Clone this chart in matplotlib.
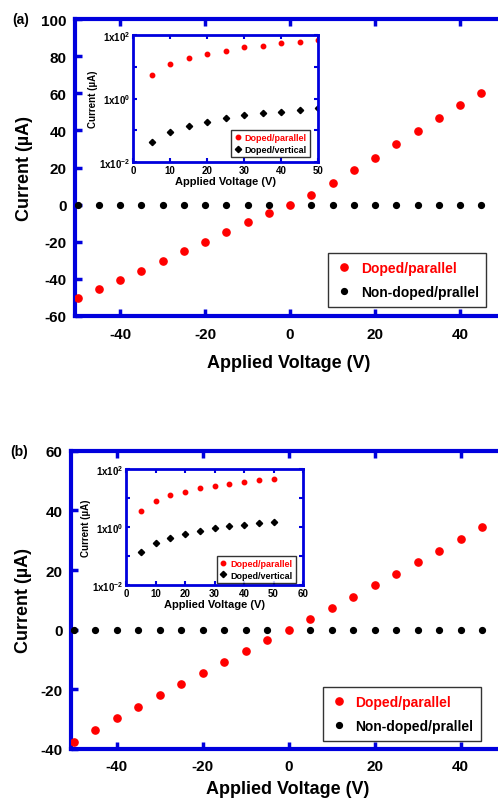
import matplotlib
matplotlib.use("Agg")
import matplotlib.pyplot as plt
from matplotlib.ticker import FixedLocator, NullFormatter

plt.rcParams['font.family'] = ['Liberation Sans', 'DejaVu Sans']
plt.rcParams['font.weight'] = 'bold'
plt.rcParams['axes.unicode_minus'] = False
plt.rcParams['mathtext.fontset'] = 'custom'
plt.rcParams['mathtext.rm'] = 'Liberation Sans:bold'
plt.rcParams['mathtext.it'] = 'Liberation Sans:bold'
plt.rcParams['mathtext.bf'] = 'Liberation Sans:bold'
plt.rcParams['mathtext.default'] = 'regular'

# ---------------- data ----------------
volt_main = [-50, -45, -40, -35, -30, -25, -20, -15, -10, -5, 0, 5, 10, 15, 20, 25, 30, 35, 40, 45]
a_doped = [-50.2, -45.4, -40.4, -35.7, -30.4, -25.1, -19.9, -14.5, -9.3, -4.5, 0.0,
           5.4, 11.9, 18.5, 25.3, 32.6, 39.6, 46.6, 53.9, 60.2]
a_nondoped = [0.0] * 20
b_doped = [-37.7, -33.7, -29.7, -25.8, -22.0, -18.2, -14.4, -10.7, -7.1, -3.6, 0.0,
           3.7, 7.4, 11.1, 15.0, 18.7, 22.6, 26.5, 30.4, 34.5]
b_nondoped = [0.0] * 20

volt_inset = [5, 10, 15, 20, 25, 30, 35, 40, 45, 50]
a_in_parallel = [5.6, 12, 18.6, 26, 32, 41, 46, 55, 60, 68]
a_in_vertical = [0.044, 0.091, 0.136, 0.18, 0.25, 0.30, 0.34, 0.38, 0.43, 0.49]
b_in_parallel = [3.7, 8.1, 12.3, 16.5, 21.4, 25.9, 31, 36.5, 40.5, 46]
b_in_vertical = [0.137, 0.29, 0.43, 0.59, 0.75, 0.90, 1.08, 1.2, 1.33, 1.5]

main_xticks = [-40, -20, 0, 20, 40]
a_yticks = [-60, -40, -20, 0, 20, 40, 60, 80, 100]
b_yticks = [-40, -20, 0, 20, 40, 60]
log_major = [1e-2, 1e0, 1e2]
log_major_labels = ['1x10$^{-2}$', '1x10$^{0}$', '1x10$^{2}$']
log_minor = [1e-1, 1e1]

BLUE = '#0000DD'
RED = '#FF0000'

fig = plt.figure(figsize=(4.98, 8.03), dpi=100)


def main_axes(rect, ylim, yticks, doped, nondoped, leg_anchor, xpad, xlabpad):
    ax = fig.add_axes(rect)
    ax.plot(volt_main, nondoped, 'o', color='black', ms=4.2, label='Non-doped/prallel', zorder=3)
    ax.plot(volt_main, doped, 'o', color=RED, ms=5.2, label='Doped/parallel', zorder=4)
    ax.set_xlim(-50.6, 50)
    ax.set_ylim(*ylim)
    ax.set_xticks(main_xticks)
    ax.set_yticks(yticks)
    for s in ['left', 'bottom', 'top']:
        ax.spines[s].set_color(BLUE)
        ax.spines[s].set_linewidth(3)
    ax.spines['right'].set_visible(False)
    ax.tick_params(direction='in', length=5, width=2.5, color=BLUE, top=True,
                   labelsize=11, pad=xpad)
    ax.tick_params(axis='y', pad=6)
    for lab in ax.get_xticklabels() + ax.get_yticklabels():
        lab.set_fontweight('bold')
    ax.set_xlabel('Applied Voltage (V)', fontsize=13, fontweight='bold', labelpad=xlabpad)
    ax.set_ylabel('Current (µA)', fontsize=13, fontweight='bold', labelpad=6)
    h, l = ax.get_legend_handles_labels()
    leg = ax.legend([h[1], h[0]], [l[1], l[0]], loc='upper left', bbox_to_anchor=leg_anchor,
                    borderaxespad=0,
                    prop={'size': 10, 'weight': 'bold'}, frameon=True, fancybox=False,
                    edgecolor='black', handletextpad=0.6, borderpad=0.55, labelspacing=0.75,
                    handlelength=1.2)
    leg.get_frame().set_linewidth(1.0)
    leg.get_texts()[0].set_color(RED)
    return ax


def inset_axes(rect, xlim, xticks, par, vert, leg_anchor):
    ax = fig.add_axes(rect)
    ax.plot(volt_inset, par, 'o', color=RED, ms=3.2, label='Doped/parallel')
    ax.plot(volt_inset, vert, 'D', color='black', ms=3.2, label='Doped/vertical')
    ax.set_yscale('log')
    ax.set_xlim(*xlim)
    ax.set_ylim(1e-2, 1e2)
    ax.set_xticks(xticks)
    ax.yaxis.set_major_locator(FixedLocator(log_major))
    ax.set_yticklabels(log_major_labels)
    ax.yaxis.set_minor_locator(FixedLocator(log_minor))
    ax.yaxis.set_minor_formatter(NullFormatter())
    for s in ax.spines.values():
        s.set_color(BLUE)
        s.set_linewidth(2)
    ax.tick_params(which='both', direction='in', length=3, width=1.5, color=BLUE,
                   top=True, right=True, labelsize=7, pad=2)
    ax.tick_params(axis='y', labelsize=7)
    for lab in ax.get_xticklabels() + ax.get_yticklabels():
        lab.set_fontweight('bold')
    ax.set_xlabel('Applied Voltage (V)', fontsize=8, fontweight='bold', labelpad=1)
    ax.set_ylabel('Current (µA)', fontsize=7, fontweight='bold', labelpad=1)
    leg = ax.legend(loc='lower right', bbox_to_anchor=leg_anchor, borderaxespad=0,
                    prop={'size': 6.5, 'weight': 'bold'}, frameon=True,
                    fancybox=False, edgecolor='black', handletextpad=0.4, borderpad=0.35,
                    labelspacing=0.3, handlelength=0.8)
    leg.get_frame().set_linewidth(1.0)
    leg.get_texts()[0].set_color(RED)
    return ax


main_axes([75 / 498, 1 - 317 / 803, 427.5 / 498, 297 / 803], (-60, 100), a_yticks,
          a_doped, a_nondoped, (0.592, 0.212), 8, 9)
inset_axes([133 / 498, 1 - 163 / 803, 185 / 498, 127 / 803], (0, 50),
           [0, 10, 20, 30, 40, 50], a_in_parallel, a_in_vertical, (0.957, 0.04))

main_axes([71 / 498, 1 - 750 / 803, 432.7 / 498, 298.3 / 803], (-40, 60), b_yticks,
          b_doped, b_nondoped, (0.582, 0.208), 7, 5)
inset_axes([126 / 498, 1 - 586 / 803, 177 / 498, 116 / 803], (0, 60),
           [0, 10, 20, 30, 40, 50, 60], b_in_parallel, b_in_vertical, (0.96, 0.02))

fig.text(12 / 498, 1 - 20 / 803, '(a)', fontsize=10, fontweight='bold', va='center', ha='left')
fig.text(10 / 498, 1 - 452 / 803, '(b)', fontsize=10, fontweight='bold', va='center', ha='left')

fig.savefig('out.png', dpi=100)
